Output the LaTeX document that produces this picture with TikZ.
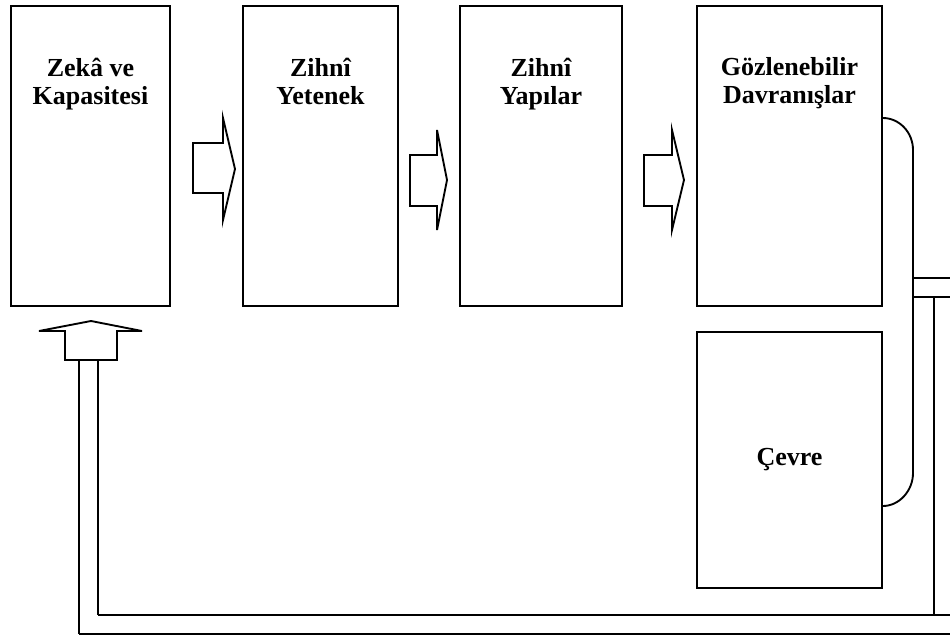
\documentclass[tikz,border=0pt]{standalone}
\usepackage{fontspec}
\setmainfont{Liberation Serif}
\begin{document}
\begin{tikzpicture}[x=0.75pt,y=-0.75pt,
  every path/.style={line width=1.4pt,line join=miter},
  boxs/.style={draw,line width=1.4pt,inner sep=0pt},
  lbl/.style={font=\bfseries\fontsize{19.5}{21}\selectfont,align=center,inner sep=0pt,anchor=north},
  blk/.style={draw,line width=1.4pt,fill=white}]
\useasboundingbox (0,0) rectangle (950,635);
% boxes
\node[boxs,minimum width=159*0.75pt,minimum height=300*0.75pt] (b1) at (90.5,156) {};
\node[boxs,minimum width=155*0.75pt,minimum height=300*0.75pt] (b2) at (320.5,156) {};
\node[boxs,minimum width=162*0.75pt,minimum height=300*0.75pt] (b3) at (541,156) {};
\node[boxs,minimum width=185*0.75pt,minimum height=300*0.75pt] (b4) at (789.5,156) {};
\node[boxs,minimum width=185*0.75pt,minimum height=256*0.75pt] (b5) at (789.5,460) {};
% labels
\node[lbl] (t1) at (90.5,57) {Zekâ ve\\Kapasitesi};
\node[lbl] (t2) at (320.5,57) {Zihnî\\Yetenek};
\node[lbl] (t3) at (541,57) {Zihnî\\Yapılar};
\node[lbl] (t4) at (789.5,57) {Gözlenebilir\\Davranışlar};
\node[font=\bfseries\fontsize{19.5}{21}\selectfont,inner sep=0pt] (t5) at (b5.center) {Çevre};
% block arrows between boxes
\draw (193,143) -- (223,143) -- (223,118) -- (235,169) -- (223,220) -- (223,193) -- (193,193) -- cycle;
\draw (410,155) -- (437,155) -- (437,130) -- (447,180) -- (437,230) -- (437,206) -- (410,206) -- cycle;
\draw (644,155) -- (672,155) -- (672,130) -- (684,180) -- (672,230) -- (672,206) -- (644,206) -- cycle;
% bracket from right boxes
\coordinate (k1) at (b4.east |- 0,118);
\coordinate (k2) at (b5.east |- 0,506);
\draw (k1) .. controls (899,118) and (913,132) .. (913,150) -- (913,473) .. controls (913,491) and (899,506) .. (k2);
% right pipe
\coordinate (r1) at (913,278);
\coordinate (r2) at (913,297);
\coordinate (e1) at (950,278);
\coordinate (e2) at (950,297);
\draw (r1) -- (e1);
\draw (r2) -- (e2);
\draw (934,297) -- (934,615);
% bottom pipe
\coordinate (p1) at (98,615);
\coordinate (p2) at (950,615);
\coordinate (p3) at (79,634);
\coordinate (p4) at (950,634);
\draw (p1) -- (p2);
\draw (p3) -- (p4);
\draw (79,360) -- (p3);
\draw (98,360) -- (p1);
% up arrow
\draw (39,331) -- (91,321) -- (142,331) -- (117,331) -- (117,360) -- (65,360) -- (65,331) -- cycle;
\end{tikzpicture}
\end{document}
